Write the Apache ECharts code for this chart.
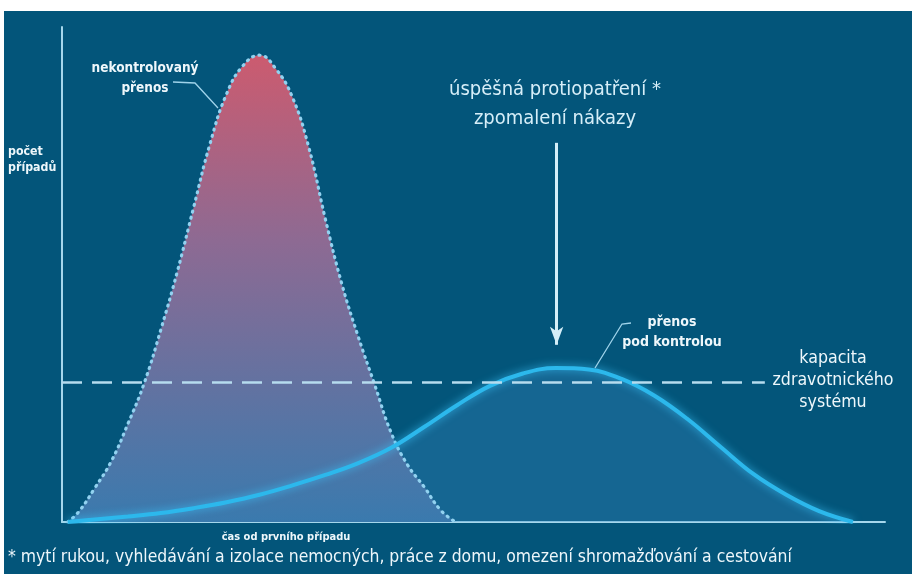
<!DOCTYPE html>
<html>
<head>
<meta charset="utf-8">
<script src="https://cdn.jsdelivr.net/npm/echarts@6/dist/echarts.min.js"></script>
<style>
  html, body { margin: 0; padding: 0; background: #ffffff; }
  #chart { position: absolute; left: 4px; top: 11px; width: 908px; height: 563px; background: #03557a; }
</style>
</head>
<body>
<div id="chart"></div>
<script>
// Time since the first case (arbitrary units 0–100) and number of cases (0–100)
const uncontrolledTime  = [0.7, 2, 4, 6, 8, 10, 12, 14, 16, 18, 20, 22, 24, 26, 28, 30, 32, 34, 36, 38, 40, 42, 44, 46, 47.8];
const uncontrolledCases = [0, 2.0, 6.9, 12.3, 19.8, 28.1, 38.8, 50.5, 63.6, 76.5, 86.5, 92.2, 94.3, 91.5, 85.8, 75.6, 61.2, 48.1, 37.4, 27.7, 18.0, 11.5, 7.1, 2.4, 0];

const controlledTime  = [0.7, 4, 8, 12, 16, 20, 24, 28, 32, 36, 40, 44, 48, 52, 56, 60, 64, 68, 72, 76, 80, 84, 88, 92, 96.1];
const controlledCases = [0, 0.5, 1.1, 1.8, 2.8, 4.0, 5.5, 7.4, 9.5, 11.9, 15.0, 19.2, 23.6, 27.5, 30.0, 31.1, 30.8, 28.9, 25.5, 20.8, 15.2, 9.7, 5.5, 2.2, 0];

const healthCapacity = 28.3;
const capacityEnd = 85.4;

// Arrow marking the effect of the measures
const arrowTime = 60.1;
const arrowFrom = 76.6;
const arrowTo = 35.8;

const pair = (xs, ys) => xs.map((x, i) => [x, ys[i]]);

const FONT = '"DejaVu Sans Condensed", "DejaVu Sans", sans-serif';
const TXT = '#eef7fb';
const OX = 4, OY = 11; // chart div offset inside the page
const at = (x, y) => ({ x: x - OX, y: y - OY });

const chart = echarts.init(document.getElementById('chart'), null, { renderer: 'canvas' });

chart.setOption({
  animation: false,
  backgroundColor: '#03557a',
  grid: { left: 62 - OX, right: 27, top: 27 - OY, bottom: 52 },
  xAxis: {
    type: 'value', min: 0, max: 100,
    axisLine: { show: true, onZero: true, lineStyle: { color: '#a6d7ec', width: 2 } },
    axisTick: { show: false }, axisLabel: { show: false }, splitLine: { show: false }
  },
  yAxis: {
    type: 'value', min: 0, max: 100,
    axisLine: { show: true, lineStyle: { color: '#a6d7ec', width: 2 } },
    axisTick: { show: false }, axisLabel: { show: false }, splitLine: { show: false }
  },
  series: [
    {
      // shaded area under the controlled curve
      type: 'line', smooth: 0.4, symbol: 'none', z: 1,
      data: pair(controlledTime, controlledCases),
      lineStyle: { width: 0 },
      areaStyle: { color: 'rgba(60, 140, 200, 0.32)', opacity: 1 }
    },
    {
      name: 'nekontrolovaný přenos',
      type: 'line', smooth: 0.45, symbol: 'none', z: 2,
      data: pair(uncontrolledTime, uncontrolledCases),
      lineStyle: { color: '#92d2f0', width: 3.2, type: [1, 5.5], cap: 'round' },
      areaStyle: {
        opacity: 1,
        color: new echarts.graphic.LinearGradient(0, 0, 0, 1, [
          { offset: 0, color: '#cc5b6f' },
          { offset: 0.4, color: '#8d6a93' },
          { offset: 1, color: '#3a7aae' }
        ])
      }
    },
    {
      name: 'přenos pod kontrolou',
      type: 'line', smooth: 0.4, symbol: 'none', z: 3,
      data: pair(controlledTime, controlledCases),
      lineStyle: { color: '#2cb8ec', width: 4, shadowBlur: 8, shadowColor: 'rgba(60, 200, 255, 0.8)' },
      markLine: {
        silent: true, animation: false,
        label: { show: false },
        data: [
          [
            { coord: [0, healthCapacity], symbol: 'none', lineStyle: { color: '#b6dcee', width: 2.5, type: [20, 10] } },
            { coord: [capacityEnd, healthCapacity], symbol: 'none' }
          ],
          [
            { coord: [arrowTime, arrowFrom], symbol: 'none', lineStyle: { color: '#d4eef8', width: 3, type: 'solid' } },
            { coord: [arrowTime, arrowTo], symbol: 'arrow', symbolSize: [10, 18] }
          ]
        ]
      }
    }
  ],
  graphic: [
    // leader lines
    { type: 'polyline', shape: { points: [[173 - OX, 82 - OY], [195 - OX, 83 - OY], [218 - OX, 108 - OY]] },
      style: { stroke: '#9fd3ea', lineWidth: 1.3, fill: null }, z: 10 },
    { type: 'polyline', shape: { points: [[631 - OX, 323 - OY], [622 - OX, 324 - OY], [595 - OX, 368 - OY]] },
      style: { stroke: '#9fd3ea', lineWidth: 1.3, fill: null }, z: 10 },
    // annotations
    { type: 'text', ...at(145, 78), z: 10,
      style: { text: 'nekontrolovaný\npřenos', fill: TXT, font: 'bold 13.5px ' + FONT, textAlign: 'center', textVerticalAlign: 'middle', lineHeight: 20 } },
    { type: 'text', ...at(8, 160), z: 10,
      style: { text: 'počet\npřípadů', fill: TXT, font: 'bold 12.3px ' + FONT, textAlign: 'left', textVerticalAlign: 'middle', lineHeight: 16 } },
    { type: 'text', ...at(555, 104), z: 10,
      style: { text: 'úspěšná protiopatření *\nzpomalení nákazy', fill: '#d6eef8', font: '20px ' + FONT, textAlign: 'center', textVerticalAlign: 'middle', lineHeight: 29 } },
    { type: 'text', ...at(672, 332), z: 10,
      style: { text: 'přenos\npod kontrolou', fill: TXT, font: 'bold 14px ' + FONT, textAlign: 'center', textVerticalAlign: 'middle', lineHeight: 20 } },
    { type: 'text', ...at(833, 380), z: 10,
      style: { text: 'kapacita\nzdravotnického\nsystému', fill: TXT, font: '17.6px ' + FONT, textAlign: 'center', textVerticalAlign: 'middle', lineHeight: 22 } },
    { type: 'text', ...at(286, 537), z: 10,
      style: { text: 'čas od prvního případu', fill: TXT, font: 'bold 11px ' + FONT, textAlign: 'center', textVerticalAlign: 'middle' } },
    { type: 'text', ...at(8, 557), z: 10,
      style: { text: '* mytí rukou, vyhledávání a izolace nemocných, práce z domu, omezení shromažďování a cestování', fill: TXT, font: '17.4px ' + FONT, textAlign: 'left', textVerticalAlign: 'middle' } }
  ]
});
</script>
</body>
</html>
